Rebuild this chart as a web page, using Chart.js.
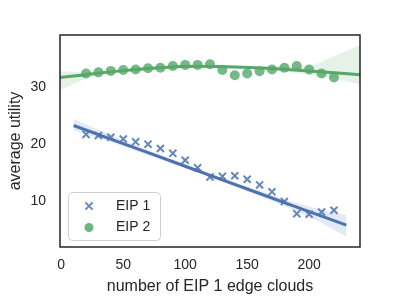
<!DOCTYPE html>
<html>
<head>
<meta charset="utf-8">
<script src="https://cdn.jsdelivr.net/npm/chart.js@4/dist/chart.umd.min.js"></script>
<style>
  body { margin: 0; background: #fff; }
  #chart { display: block; }
</style>
</head>
<body>
<canvas id="chart" width="400" height="298"></canvas>
<script>
// number of EIP 1 edge clouds
const xs = [20, 30, 40, 50, 60, 70, 80, 90, 100, 110, 120, 130, 140, 150, 160, 170, 180, 190, 200, 210, 220];
// average utility
const eip1 = [21.7, 21.5, 21.2, 20.9, 20.4, 20.0, 19.25, 18.4, 17.2, 15.9, 14.3, 14.4, 14.5, 13.9, 12.9, 11.7, 10.0, 7.9, 7.8, 8.2, 8.5];
const eip2 = [32.3, 32.5, 32.75, 32.9, 33.0, 33.2, 33.3, 33.6, 33.8, 33.8, 33.9, 32.9, 32.0, 32.3, 32.7, 33.0, 33.3, 33.6, 33.0, 32.3, 31.6];

// regression lines and their bands
const fit1X = [10, 40, 70, 100, 130, 160, 190, 210, 230];
const fit1 = [23.25, 20.88, 18.52, 16.15, 13.78, 11.41, 9.05, 7.47, 5.9];
const band1Hi = [24.4, 21.58, 18.97, 16.5, 14.13, 11.86, 9.75, 8.57, 7.65];
const band1Lo = [22.4, 20.33, 18.12, 15.8, 13.43, 10.96, 8.3, 6.27, 3.9];

const fit2X = [-1, 20, 50, 80, 110, 140, 170, 200, 220, 241];
const fit2 = [31.6, 32.1, 32.8, 33.3, 33.55, 33.45, 33.15, 32.75, 32.45, 32.1];
const band2Hi = [32.7, 32.5, 33.05, 33.55, 33.8, 33.7, 33.55, 33.7, 35.3, 37.2];
const band2Lo = [29.4, 31.4, 32.5, 33.05, 33.3, 33.2, 32.8, 32.1, 31.4, 30.4];

const xTicks = [0, 50, 100, 150, 200];
const yTicks = [10, 20, 30];

const BLUE = '#4c72b0';
const GREEN = '#55a868';
const INK = '#262626';
const FONT = '"Liberation Sans", Arial, sans-serif';

function pts(xArr, yArr) {
  return xArr.map((x, i) => ({ x: x, y: yArr[i] }));
}

// рамка вокруг области графика
const framePlugin = {
  id: 'frame',
  afterDatasetsDraw(chart) {
    const a = chart.chartArea;
    const ctx = chart.ctx;
    ctx.save();
    ctx.strokeStyle = INK;
    ctx.lineWidth = 1.5;
    ctx.strokeRect(a.left, a.top, a.right - a.left, a.bottom - a.top);
    ctx.restore();
  },
};

// легенда внутри области графика (слева снизу)
const legendPlugin = {
  id: 'insideLegend',
  afterDraw(chart) {
    const ctx = chart.ctx;
    ctx.save();
    const bx = 68, by = 192, bw = 92, bh = 48, r = 4;
    ctx.beginPath();
    ctx.roundRect(bx + 0.5, by + 0.5, bw, bh, r);
    ctx.fillStyle = 'rgba(255,255,255,0.8)';
    ctx.fill();
    ctx.strokeStyle = '#d0d0d0';
    ctx.lineWidth = 1;
    ctx.stroke();

    // маркер EIP 1
    const mx = 89, my1 = 206, my2 = 227.5, d = 3.6;
    ctx.strokeStyle = BLUE;
    ctx.globalAlpha = 0.85;
    ctx.lineWidth = 2;
    ctx.beginPath();
    ctx.moveTo(mx - d, my1 - d); ctx.lineTo(mx + d, my1 + d);
    ctx.moveTo(mx - d, my1 + d); ctx.lineTo(mx + d, my1 - d);
    ctx.stroke();
    // маркер EIP 2
    ctx.fillStyle = GREEN;
    ctx.beginPath();
    ctx.arc(mx, my2, 4.5, 0, Math.PI * 2);
    ctx.fill();
    ctx.globalAlpha = 1;

    ctx.fillStyle = INK;
    ctx.font = '14px ' + FONT;
    ctx.textBaseline = 'middle';
    ctx.textAlign = 'left';
    ctx.fillText('EIP 1', 116, my1);
    ctx.fillText('EIP 2', 116, my2);
    ctx.restore();
  },
};

const ctx = document.getElementById('chart').getContext('2d');
new Chart(ctx, {
  type: 'line',
  data: {
    datasets: [
      {
        label: 'fit 2',
        data: pts(fit2X, fit2),
        borderColor: GREEN,
        borderWidth: 3,
        pointRadius: 0,
        cubicInterpolationMode: 'monotone',
        fill: false,
        order: 1,
      },
      {
        label: 'band 2 hi',
        data: pts(fit2X, band2Hi),
        borderWidth: 0,
        borderColor: 'rgba(0,0,0,0)',
        pointRadius: 0,
        cubicInterpolationMode: 'monotone',
        backgroundColor: 'rgba(85,168,104,0.15)',
        fill: 2,
        order: 2,
      },
      {
        label: 'band 2 lo',
        data: pts(fit2X, band2Lo),
        borderWidth: 0,
        borderColor: 'rgba(0,0,0,0)',
        pointRadius: 0,
        cubicInterpolationMode: 'monotone',
        fill: false,
        order: 2,
      },
      {
        label: 'EIP 2',
        data: pts(xs, eip2),
        showLine: false,
        pointStyle: 'circle',
        pointRadius: 5,
        pointBorderWidth: 0,
        pointBackgroundColor: 'rgba(85,168,104,0.8)',
        order: 3,
      },
      {
        label: 'fit 1',
        data: pts(fit1X, fit1),
        borderColor: BLUE,
        borderWidth: 3,
        pointRadius: 0,
        fill: false,
        order: 4,
      },
      {
        label: 'band 1 hi',
        data: pts(fit1X, band1Hi),
        borderWidth: 0,
        borderColor: 'rgba(0,0,0,0)',
        pointRadius: 0,
        cubicInterpolationMode: 'monotone',
        backgroundColor: 'rgba(76,114,176,0.15)',
        fill: 6,
        order: 5,
      },
      {
        label: 'band 1 lo',
        data: pts(fit1X, band1Lo),
        borderWidth: 0,
        borderColor: 'rgba(0,0,0,0)',
        pointRadius: 0,
        cubicInterpolationMode: 'monotone',
        fill: false,
        order: 5,
      },
      {
        label: 'EIP 1',
        data: pts(xs, eip1),
        showLine: false,
        pointStyle: 'crossRot',
        pointRadius: 5,
        pointBorderWidth: 2,
        pointBorderColor: 'rgba(76,114,176,0.85)',
        order: 6,
      },
    ],
  },
  options: {
    responsive: false,
    animation: false,
    devicePixelRatio: 1,
    layout: { padding: { left: 0, top: 35, right: 40, bottom: 0 } },
    plugins: {
      legend: { display: false },
      tooltip: { enabled: false },
    },
    scales: {
      x: {
        type: 'linear',
        min: -1,
        max: 241,
        grid: { display: false, drawTicks: false },
        border: { display: false },
        afterBuildTicks: (s) => { s.ticks = xTicks.map((v) => ({ value: v })); },
        afterFit: (s) => { s.height = 51; },
        ticks: {
          padding: 10,
          color: INK,
          font: { family: FONT, size: 14 },
          maxRotation: 0,
        },
        title: {
          display: true,
          text: 'number of EIP 1 edge clouds',
          color: INK,
          font: { family: FONT, size: 16 },
          padding: { top: 0, bottom: 2 },
        },
      },
      y: {
        type: 'linear',
        min: 2.1,
        max: 39,
        grid: { display: false, drawTicks: false },
        border: { display: false },
        afterBuildTicks: (s) => { s.ticks = yTicks.map((v) => ({ value: v })); },
        afterFit: (s) => { s.width = 60; },
        ticks: {
          padding: 14,
          color: INK,
          font: { family: FONT, size: 14 },
        },
        title: {
          display: true,
          text: 'average utility',
          color: INK,
          font: { family: FONT, size: 16 },
          padding: { top: 6, bottom: 0 },
        },
      },
    },
  },
  plugins: [framePlugin, legendPlugin],
});
</script>
</body>
</html>
